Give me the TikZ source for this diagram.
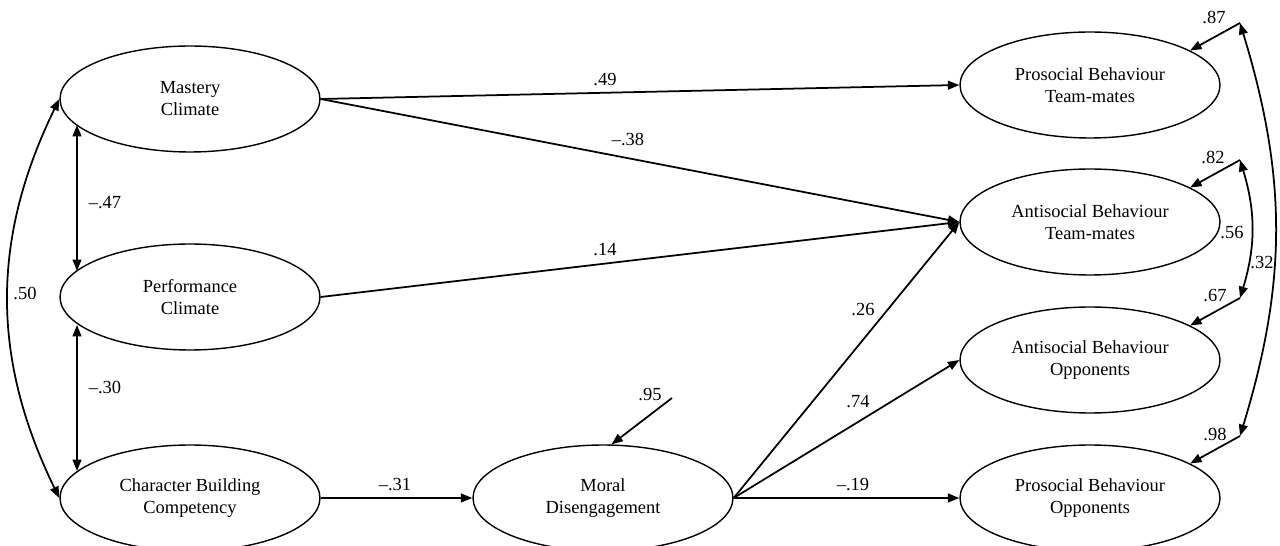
\documentclass[tikz,border=0pt]{standalone}
\usepackage{fontspec}
\setmainfont{Liberation Serif}
\usetikzlibrary{shapes.geometric,arrows.meta}

\begin{document}
\begin{tikzpicture}[x=0.02cm, y=-0.02cm, line width=0.8pt,
    font=\fontsize{10.5}{12.5}\selectfont,
    latent/.style={ellipse, draw, align=center, inner sep=0pt,
      minimum width=5.2cm, minimum height=2.12cm},
    path/.style={line width=1pt, -{Triangle[length=6.5pt,width=5pt]}},
    cov/.style={line width=1pt,
      {Triangle[length=6.5pt,width=5pt]}-{Triangle[length=6.5pt,width=5pt]}}]
  \useasboundingbox (0,0) rectangle (1280,546);

  % latent variables, left column
  \node[latent] (MC) at (190,99) {Mastery\\Climate};
  \node[latent] (PC) at (190,297) {Performance\\Climate};
  \node[latent] (CBC) at (190,498) {Character Building\\Competency};
  \node[latent] (MD) at (603,498) {Moral\\Disengagement};

  % outcomes, right column
  \node[latent] (PBT) at (1090,85) {Prosocial Behaviour\\Team-mates};
  \node[latent] (ABT) at (1090,222) {Antisocial Behaviour\\Team-mates};
  \node[latent] (ABO) at (1090,360) {Antisocial Behaviour\\Opponents};
  \node[latent] (PBO) at (1090,498) {Prosocial Behaviour\\Opponents};

  % paths
  \draw[path] (MC.east) -- (PBT.west);
  \draw[path] (MC.east) -- (ABT.west);
  \draw[path] (PC.east) -- (ABT.west);
  \draw[path] (CBC.east) -- (MD.west);
  \draw[path] (MD.east) -- (ABT.west);
  \draw[path] (MD.east) -- (ABO.west);
  \draw[path] (MD.east) -- (PBO.west);

  \node (l49) at (605,80) {.49};
  \node (l38) at (628,140) {--.38};
  \node (l14) at (605,250) {.14};
  \node (l31) at (395,485) {--.31};
  \node (l26) at (863,310) {.26};
  \node (l74) at (858,402) {.74};
  \node (l19) at (853,485) {--.19};

  % correlations among predictors
  \draw[cov] (77,125) -- (77,271);
  \draw[cov] (77,325) -- (77,471);
  \draw[cov] (MC.west) to[bend right=26] (CBC.west);
  \node (l47) at (105,203) {--.47};
  \node (l30) at (105,387) {--.30};
  \node (l50) at (25,293) {.50};

  % residuals
  \coordinate (rMD) at (672,398);
  \coordinate (rPBT) at (1240,23);
  \coordinate (rABT) at (1240,160);
  \coordinate (rABO) at (1240,298);
  \coordinate (rPBO) at (1240,436);
  \draw[path] (rMD) -- (MD.81);
  \draw[path] (rPBT) -- (PBT.19);
  \draw[path] (rABT) -- (ABT.19);
  \draw[path] (rABO) -- (ABO.19);
  \draw[path] (rPBO) -- (PBO.19);
  \node (l95) at (650,395) {.95};
  \node (l87) at (1214,18) {.87};
  \node (l82) at (1213,158) {.82};
  \node (l67) at (1215,296) {.67};
  \node (l98) at (1215,434) {.98};

  % residual covariances
  \draw[cov] (rABT) to[bend left=17] (rABO);
  \draw[cov] (rPBT) to[bend left=17] (rPBO);
  \node (l56) at (1232,233) {.56};
  \node (l32) at (1262,263) {.32};
\end{tikzpicture}
\end{document}
